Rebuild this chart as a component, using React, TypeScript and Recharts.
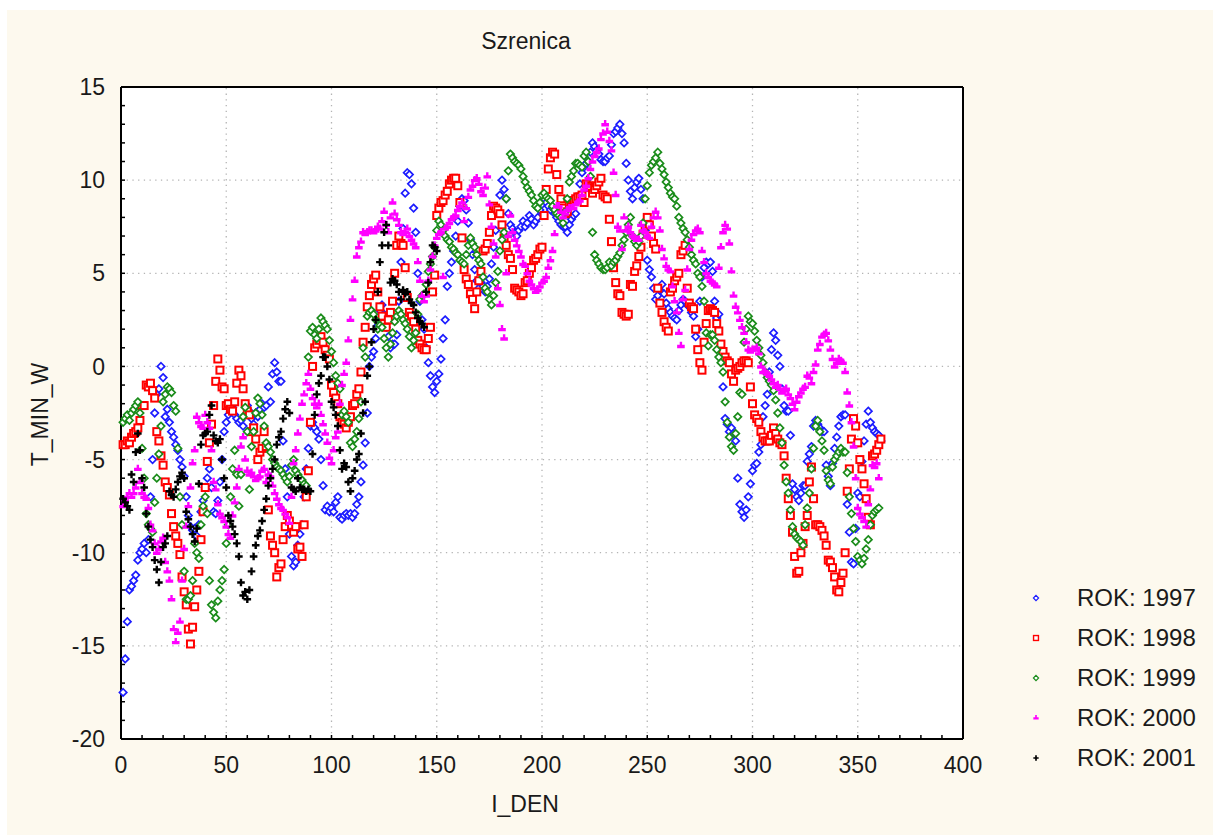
import { ScatterChart, Scatter, XAxis, YAxis, ReferenceLine, CartesianGrid, Legend } from 'recharts';

// T_MIN_W per day (I_DEN = index + 1)
const y1997 = [
  -17.5, -15.7, -13.7, -12.0, -11.8, -11.5, -11.2, -10.4, -10.0, -9.8,
  -9.5, -10.0, -9.3, -7.0, -5.0, -2.5, -1.5, -1.2, 0.0, -0.6,
  -2.7, -2.3, -3.0, -3.5, -3.8, -4.2, -4.5, -5.0, -5.4, -5.9,
  -7.0, -8.0, -8.6, -8.8, -8.7, -9.1, -8.5, -7.8, -7.2, -6.5,
  -6.0, -5.5, -6.5, -7.8, -7.9, -7.2, -6.2, -5.0, -3.5, -3.0,
  -2.6, -2.4, -2.2, -2.6, -2.8, -3.0, -2.9, -3.2, -2.6, -2.1,
  -2.4, -2.8, -3.1, -2.5, -2.7, -2.3, -2.0, -2.2, -2.1, -1.1,
  -1.9, -0.4, 0.2, -0.3, -0.8, -0.8, -4.0, -5.5, -7.0, -9.0,
  -10.2, -10.7, -10.5, -9.6, -9.0, -8.5, -7.0, -5.5, -4.4, -3.2,
  -3.0, -3.3, -3.5, -3.9, -5.0, -6.4, -7.7, -7.5, -7.8, -7.6,
  -7.8, -7.3, -7.0, -8.1, -8.2, -8.0, -7.9, -8.0, -7.9, -8.1,
  -7.9, -7.4, -7.0, -6.2, -5.3, -4.1, -2.5, 0.0, 0.5, 0.8,
  1.5, 2.2, 3.0, 3.3, 2.8, 2.1, 1.6, 1.0, 1.2, 1.2,
  1.7, 3.5, 5.6, 7.4, 9.3, 10.4, 10.3, 9.8, 8.5, 7.2,
  5.0, 3.5, 2.5, 2.0, 1.0, 0.2, -0.5, -1.1, -1.4, -0.8,
  -0.4, 0.4, 1.5, 2.5, 4.3, 5.0, 5.6, 6.2, 7.0, 7.8,
  8.6, 9.0, 8.9, 8.4, 7.7, 6.8, 6.0, 5.2, 4.6, 4.2,
  4.5, 4.3, 4.0, 4.3, 4.7, 5.5, 6.4, 7.3, 8.3, 9.2,
  10.0, 9.5, 9.0, 8.2, 7.6, 7.4, 7.2, 7.0, 7.3, 7.5,
  7.8, 7.5, 7.7, 8.1, 7.9, 7.6, 7.8, 8.0, 8.4, 8.7,
  9.0, 8.8, 8.6, 8.4, 8.5, 8.2, 8.0, 7.8, 7.6, 7.5,
  7.5, 7.2, 7.6, 7.9, 8.1, 8.2, 9.0, 9.8, 10.4, 10.7,
  10.9, 11.0, 11.5, 12.0, 11.8, 11.6, 11.4, 11.1, 11.0, 11.0,
  11.2, 11.3, 11.9, 12.5, 12.6, 12.8, 13.0, 12.5, 12.0, 10.9,
  10.0, 9.4, 9.0, 9.6, 9.9, 10.1, 9.5, 9.0, 7.3, 5.7,
  5.2, 4.8, 4.2, 3.6, 3.8, 4.1, 4.4, 3.9, 3.4, 3.1,
  2.9, 2.7, 2.6, 2.5, 3.0, 3.3, 3.6, 3.5, 3.3, 3.2,
  2.9, 2.7, 1.6, 2.0, 3.5, 4.8, 5.3, 5.6, 5.5, 5.6,
  5.1, 3.5, 2.6, 2.8, 0.9, -1.1, -2.8, -3.1, -3.5, -3.3,
  -3.6, -4.0, -6.0, -7.4, -7.8, -8.1, -7.7, -7.0, -6.3, -5.6,
  -5.3, -5.2, -4.6, -4.2, -2.7, -2.1, -1.5, -0.3, 0.9, 1.8,
  1.4, 0.6, 0.0, -1.2, -2.1, -2.4, -2.4, -3.7, -6.3, -6.6,
  -7.0, -7.2, -6.8, -6.4, -6.4, -5.1, -4.7, -4.3, -3.2, -2.9,
  -3.1, -3.3, -3.5, -3.5, -5.3, -5.9, -6.4, -5.2, -4.4, -3.8,
  -3.2, -2.7, -2.6, -2.6, -7.4, -8.9, -10.5, -10.6, -8.7, -6.8,
  -7.0, -5.1, -4.0, -3.1, -2.4, -3.0, -3.3, -3.5, -3.6, -3.7,
  -4.0,
];

const y1998 = [
  -4.2, -4.2, -4.0, -4.1, -3.8, -3.6, -3.5, -3.3, -2.9, -2.1,
  -2.1, -1.0, -1.1, -0.9, -1.3, -1.7, -3.5, -4.0, -4.8, -5.3,
  -6.2, -6.5, -6.9, -7.9, -8.6, -9.1, -9.5, -10.1, -11.3, -12.1,
  -12.8, -14.1, -14.9, -14.0, -12.9, -12.0, -11.0, -9.3, -7.8, -6.5,
  -5.1, -4.1, -3.1, -2.1, -0.8, 0.4, -0.2, -1.1, -1.2, -2.1,
  -2.0, -2.3, -2.4, -1.9, -0.9, -0.2, -0.5, -1.2, -2.0, -2.4,
  -2.6, -3.5, -3.3, -3.9, -5.0, -4.6, -4.4, -3.5, -4.3, -7.7,
  -9.1, -9.6, -10.0, -11.3, -10.8, -10.6, -9.3, -8.6, -8.0, -8.3,
  -8.6, -8.9, -8.6, -9.8, -9.7, -10.2, -8.5, -7.0, -5.6, -3.0,
  0.0, 1.0, 1.2, 1.4, 1.6, 1.3, 0.9, 0.6, 0.4, -1.0,
  -1.4, -1.7, -2.0, -2.7, -3.0, -3.1, -3.3, -3.0, -2.7, -2.1,
  -2.0, -1.5, -1.2, -0.3, 1.3, 2.1, 3.2, 3.8, 4.4, 4.7,
  4.9, 4.0, 3.2, 2.7, 2.3, 2.1, 2.5, 2.9, 3.5, 5.0,
  6.5, 7.0, 6.6, 6.5, 5.3, 3.7, 2.9, 2.7, 2.4, 2.0,
  1.4, 1.2, 1.0, 0.9, 0.9, 1.5, 2.1, 4.0, 4.9, 8.1,
  8.5, 8.8, 8.9, 9.2, 9.4, 9.8, 10.0, 10.1, 10.1, 9.7,
  8.8, 6.9, 5.2, 4.7, 4.4, 3.9, 3.6, 3.1, 4.0, 4.6,
  5.1, 6.2, 6.3, 6.6, 7.2, 8.1, 8.6, 8.5, 8.4, 8.2,
  7.6, 6.9, 6.5, 6.0, 5.8, 5.2, 4.2, 4.1, 4.0, 3.8,
  3.9, 4.5, 4.6, 5.0, 5.3, 5.7, 5.8, 6.0, 6.3, 6.4,
  8.1, 9.5, 10.6, 11.2, 11.5, 11.4, 10.3, 9.5, 9.0, 8.5,
  8.2, 8.3, 8.8, 8.9, 8.9, 9.0, 9.1, 9.1, 9.2, 8.8,
  9.8, 9.7, 9.6, 9.3, 9.5, 9.7, 9.9, 10.1, 9.2, 9.1,
  9.0, 7.9, 6.7, 5.3, 4.5, 3.9, 3.8, 2.9, 2.8, 2.7,
  2.8, 4.4, 4.3, 5.1, 5.4, 5.9, 6.4, 7.1, 7.6, 8.0,
  7.6, 7.0, 6.6, 6.3, 4.2, 3.4, 2.9, 2.4, 2.1, 1.9,
  4.0, 4.2, 4.6, 4.8, 5.0, 6.0, 6.2, 6.5, 4.2, 3.4,
  3.2, 3.1, 2.0, 0.9, 0.2, -0.2, 1.3, 2.3, 3.0, 3.1,
  3.0, 2.9, 2.3, 1.9, 1.2, 0.8, 0.5, 0.3, 0.2, -0.4,
  -0.8, -0.2, -0.1, 0.0, 0.2, 0.3, 0.3, 0.2, -1.1, -2.0,
  -2.6, -2.8, -3.0, -3.5, -3.8, -4.0, -4.0, -4.0, -3.7, -3.3,
  -3.6, -3.9, -4.1, -4.2, -4.8, -6.0, -7.1, -8.0, -8.9, -10.2,
  -11.1, -11.0, -10.0, -9.5, -8.6, -8.0, -6.2, -5.4, -7.1, -8.5,
  -8.5, -8.6, -8.8, -9.1, -9.6, -10.4, -10.5, -10.8, -11.3, -12.0,
  -12.1, -11.6, -11.1, -10.0, -6.7, -5.5, -3.9, -2.8, -3.2, -4.1,
  -5.0, -5.5, -6.3, -7.1, -8.1, -8.5, -4.8, -4.7, -4.5, -4.2,
  -3.9,
];

const y1999 = [
  -3.0, -2.8, -2.6, -2.9, -2.5, -2.3, -2.1, -1.9, -2.5, -4.4,
  -6.0, -7.9, -8.5, -8.7, -8.9, -7.3, -6.0, -4.7, -3.2, -1.9,
  -1.5, -1.1, -1.2, -1.4, -2.1, -2.4, -4.4, -7.0, -8.5, -11.0,
  -12.5, -12.5, -12.3, -11.5, -9.5, -10.0, -10.3, -8.5, -7.5, -7.0,
  -7.9, -11.5, -12.8, -13.2, -13.5, -12.6, -12.0, -11.5, -10.9, -9.5,
  -8.5, -7.0, -5.5, -4.5, -5.8, -7.5, -5.8, -2.7, -2.2, -3.5,
  -6.6, -4.3, -3.5, -2.5, -1.7, -2.0, -2.6, -3.2, -4.1, -4.3,
  -4.6, -5.0, -5.2, -5.4, -5.5, -5.6, -5.8, -6.0, -6.2, -5.9,
  -5.3, -5.0, -5.6, -5.8, -6.0, -6.1, -6.3, -6.4, 0.5, 1.9,
  2.1, 1.7, 1.5, 2.0, 2.6, 2.4, 2.2, 2.0, 1.4, 0.8,
  0.2, -0.5, -0.9, -1.2, -2.6, -2.4, -2.7, -3.0, -4.1, -4.3,
  -3.9, -3.5, -2.8, -1.9, 1.0, 0.5, 2.7, 2.9, 3.0, 2.8,
  2.5, 2.0, 2.2, 2.1, 1.5, 1.0, 0.5, 1.2, 1.8, 2.4,
  2.7, 3.0, 2.8, 2.5, 2.3, 2.0, 1.6, 1.0, 1.4, 1.8,
  2.8, 3.6, 3.8, 3.9, 4.4, 5.1, 5.5, 5.9, 6.4, 7.3,
  7.8, 7.6, 7.3, 7.0, 6.8, 6.7, 6.4, 6.3, 6.1, 6.0,
  5.7, 5.6, 5.5, 6.0, 6.5, 6.9, 6.6, 6.4, 6.0, 5.7,
  5.5, 4.8, 4.2, 4.0, 3.6, 3.3, 3.8, 4.5, 5.1, 6.2,
  6.8, 7.2, 9.0, 10.5, 11.4, 11.2, 11.0, 10.9, 10.8, 10.6,
  10.2, 9.9, 9.6, 9.4, 9.2, 8.9, 8.6, 8.5, 8.8, 9.2,
  9.3, 9.1, 9.0, 8.9, 8.6, 8.4, 8.2, 8.1, 8.0, 7.7,
  8.3, 9.0, 9.9, 10.2, 10.5, 10.9, 10.9, 10.8, 10.7, 11.3,
  11.5, 11.0, 10.2, 7.2, 6.0, 5.7, 5.5, 5.3, 5.2, 5.2,
  5.3, 5.6, 5.4, 5.6, 5.7, 5.9, 6.1, 6.5, 6.8, 7.2,
  7.6, 8.0, 7.0, 6.7, 6.5, 6.7, 7.0, 7.7, 9.0, 9.7,
  10.4, 10.8, 11.0, 11.2, 11.5, 10.9, 10.6, 10.3, 9.9, 9.6,
  9.3, 9.1, 9.0, 8.6, 8.0, 7.7, 7.4, 7.2, 6.8, 6.4,
  6.0, 5.7, 5.5, 5.0, 4.8, 4.3, 3.5, 1.8, 1.1, 1.7,
  1.7, 1.4, 0.9, 0.5, 0.2, -0.3, -1.9, -3.0, -3.8, -4.3,
  -4.5, -3.6, -2.7, -1.4, -1.5, 1.3, 2.0, 2.7, 2.4, 2.3,
  1.9, 1.4, 1.0, 0.6, 0.2, -0.3, -0.6, -0.8, -1.0, -1.3,
  -1.8, -2.5, -3.3, -4.1, -5.3, -6.2, -6.8, -7.7, -8.6, -9.0,
  -9.2, -9.3, -9.4, -9.6, -8.5, -7.6, -6.8, -5.5, -4.4, -3.2,
  -2.9, -3.5, -4.0, -4.5, -5.6, -6.1, -6.3, -5.4, -5.0, -4.8,
  -4.6, -4.4, -4.6, -4.6, -5.7, -7.0, -7.9, -8.7, -9.4, -10.2,
  -10.4, -10.6, -10.3, -9.8, -9.3, -8.5, -8.0, -7.8, -7.7, -7.6,
];

const y2000 = [
  -7.5, -7.2, -7.0, -6.8, -7.0, -6.8, -6.5, -5.5, -6.2, -6.8,
  -7.0, -7.1, -7.6, -8.5, -8.8, -9.5, -10.0, -9.8, -9.4, -9.2,
  -10.5, -11.0, -11.5, -12.5, -14.1, -14.8, -14.3, -13.7, -11.5, -9.8,
  -8.6, -7.5, -6.5, -5.2, -4.5, -2.7, -3.0, -3.2, -3.3, -2.6,
  -3.0, -3.3, -4.5, -6.2, -6.6, -7.4, -7.9, -8.1, -8.3, -8.6,
  -9.0, -9.2, -8.0, -7.3, -6.5, -5.5, -4.3, -3.8, -5.0, -5.6,
  -5.8, -5.7, -5.9, -6.1, -6.0, -5.9, -5.6, -5.5, -6.2, -5.8,
  -5.9, -6.4, -6.8, -7.1, -7.4, -7.6, -7.7, -7.9, -8.1, -8.4,
  -7.0, -5.2, -4.5, -3.6, -2.8, -2.0, -1.5, -0.9, -0.4, -1.2,
  -1.7, -2.0, -2.2, -2.0, -2.6, -3.1, -3.6, -4.1, -4.9, -5.2,
  -4.5, -3.8, -3.5, -2.0, -1.0, -0.4, 0.2, 1.4, 2.5, 3.6,
  4.6, 5.9, 6.4, 6.7, 7.2, 7.1, 7.2, 7.3, 7.3, 7.2,
  7.3, 7.5, 7.4, 7.8, 8.3, 7.6, 7.2, 8.0, 8.8, 8.2,
  7.9, 7.6, 7.2, 7.1, 7.2, 7.4, 7.0, 6.8, 6.6, 6.4,
  5.6, 4.6, 3.8, 3.5, 3.8, 4.6, 5.2, 5.9, 6.5, 6.9,
  7.1, 7.2, 4.8, 7.4, 7.5, 7.7, 7.9, 8.0, 8.1, 8.4,
  8.6, 8.8, 7.8, 8.5, 9.1, 9.5, 9.7, 10.0, 10.1, 9.8,
  9.4, 9.2, 9.6, 10.2, 8.7, 7.5, 6.6, 5.9, 4.2, 3.3,
  2.0, 1.5, 5.0, 7.0, 8.1, 7.2, 6.8, 6.5, 6.2, 5.9,
  5.5, 5.4, 5.0, 4.6, 4.4, 4.2, 4.0, 4.1, 4.3, 4.5,
  4.6, 4.8, 5.3, 5.7, 6.2, 7.1, 8.6, 8.6, 8.3, 8.0,
  8.2, 8.4, 8.5, 8.5, 8.5, 8.7, 8.8, 8.9, 9.2, 9.5,
  9.7, 10.1, 10.6, 11.0, 11.3, 11.5, 11.7, 12.2, 12.5, 13.0,
  12.6, 12.1, 11.6, 10.4, 9.2, 7.5, 7.3, 6.3, 8.0, 7.3,
  7.5, 7.2, 7.0, 6.9, 6.8, 6.8, 7.6, 7.3, 7.2, 7.0,
  6.9, 7.5, 8.0, 8.3, 8.0, 7.3, 6.3, 5.8, 5.4, 5.2,
  5.1, 4.3, 3.5, 2.9, 1.8, 1.1, 3.6, 4.1, 5.2, 6.3,
  6.8, 7.1, 7.3, 7.4, 7.2, 6.2, 5.6, 5.0, 4.8, 4.6,
  4.5, 4.4, 4.3, 5.3, 6.4, 7.2, 7.6, 7.4, 6.6, 5.1,
  3.8, 3.2, 2.9, 2.5, 2.1, 1.8, 1.3, 0.9, 0.8, 0.9,
  0.9, 1.0, 0.7, 0.0, -0.3, -0.3, -0.4, -0.5, -0.7, -0.9,
  -1.1, -1.0, -1.2, -1.4, -1.3, -1.2, -1.5, -1.7, -2.0, -2.3,
  -1.9, -1.6, -1.4, -1.2, -1.1, -0.5, -0.6, -0.9, -0.3, 0.1,
  0.9, 1.2, 1.6, 1.7, 1.8, 1.4, 0.9, 0.4, 0.0, 0.2,
  0.4, 0.3, 0.2, -0.3, -1.4, -2.1, -3.0, -4.3, -6.0, -7.6,
  -7.9, -8.1, -8.3, -8.6, -7.4, -6.6, -5.3, -5.4, -5.2, -6.0,
];

const y2001 = [
  -7.1, -7.3, -7.5, -7.7, -5.8, -6.2, -4.6, -3.6, -4.5, -6.0,
  -6.5, -7.9, -8.6, -9.3, -9.7, -10.4, -10.9, -11.6, -10.5, -9.7,
  -9.5, -9.1, -6.7, -6.9, -7.0, -6.6, -6.2, -5.9, -5.7, -6.0,
  -7.8, -8.2, -8.6, -9.0, -9.4, -8.7, -6.3, -4.2, -3.7, -3.6,
  -3.5, -2.6, -2.1, -3.7, -4.0, -4.1, -3.9, -5.0, -6.0, -6.5,
  -8.0, -8.3, -8.6, -9.0, -9.5, -10.2, -11.6, -12.3, -12.1, -12.5,
  -12.0, -11.0, -10.2, -9.6, -9.1, -8.8, -8.3, -7.7, -7.1, -6.4,
  -6.0, -5.5, -5.0, -4.2, -3.8, -3.5, -2.8, -2.3, -1.9, -2.5,
  -6.5, -6.6, -6.7, -6.0, -6.5, -6.6, -6.6, -6.7, -6.6, -6.7,
  -4.7, -2.6, -1.5, -0.9, -0.5, 0.5, 0.5, 0.0, -0.7, -1.9,
  -2.2, -2.6, -3.2, -4.5, -5.5, -5.2, -5.4, -6.2, -6.7, -6.0,
  -5.6, -5.0, -4.7, -3.6, -2.5, -1.9, -0.5, 0.0, 1.3, 2.0,
  2.5, 4.0, 5.6, 6.5, 7.2, 7.6, 6.5, 4.5, 4.7, 4.6,
  4.4, 4.0, 3.6, 4.1, 3.9, 4.0, 3.6, 3.4, 3.3, 2.9,
  2.6, 2.4, 2.3, 2.1, 4.0, 4.5, 5.6, 6.5, 6.4, 6.2,
];

const xTicks = [0, 10, 20, 30, 40, 50, 60, 70, 80, 90, 100, 110, 120, 130, 140, 150, 160, 170, 180, 190, 200,
  210, 220, 230, 240, 250, 260, 270, 280, 290, 300, 310, 320, 330, 340, 350, 360, 370, 380, 390, 400];
const yTicks = [-20, -19, -18, -17, -16, -15, -14, -13, -12, -11, -10, -9, -8, -7, -6, -5, -4, -3, -2, -1, 0,
  1, 2, 3, 4, 5, 6, 7, 8, 9, 10, 11, 12, 13, 14, 15];
const gridX = [50, 100, 150, 200, 250, 300, 350];
const gridY = [-15, -10, -5, 0, 5, 10];

const FONT = "'Liberation Sans', Arial, sans-serif";

const series = [
  { name: 'ROK: 1997', values: y1997, color: '#1c1cff', kind: 'diamond' },
  { name: 'ROK: 1998', values: y1998, color: '#ff0000', kind: 'square' },
  { name: 'ROK: 1999', values: y1999, color: '#1a8c1a', kind: 'diamond' },
  { name: 'ROK: 2000', values: y2000, color: '#ff00ff', kind: 'tri' },
  { name: 'ROK: 2001', values: y2001, color: '#000000', kind: 'plus' },
];

function Marker({ kind, cx, cy, color, s = 1 }: any) {
  if (cx == null || cy == null) return null;
  if (kind === 'diamond') {
    const r = 3.7 * s;
    return <path d={`M${cx},${cy - r}L${cx + r},${cy}L${cx},${cy + r}L${cx - r},${cy}Z`} fill="#fff" stroke={color} strokeWidth={1.7 * s} />;
  }
  if (kind === 'square') {
    const h = 3.5 * s;
    return <rect x={cx - h} y={cy - h} width={2 * h} height={2 * h} fill="#fff" stroke={color} strokeWidth={2 * s} />;
  }
  if (kind === 'tri') {
    return (
      <path
        d={`M${cx - 1.2 * s},${cy - 4.2 * s}h${2.4 * s}v${3 * s}h${2.6 * s}v${3.4 * s}h${-7.6 * s}v${-3.4 * s}h${2.6 * s}Z`}
        fill={color}
      />
    );
  }
  const r = 3.8 * s;
  return <path d={`M${cx - r},${cy}H${cx + r}M${cx},${cy - r}V${cy + r}`} stroke={color} strokeWidth={2.4 * s} />;
}

function LegendBox({ payload }: any) {
  return (
    <div style={{ fontFamily: FONT, fontSize: 24, color: '#1a1a1a' }}>
      {(payload || []).map((entry: any) => {
        const s = series.find((d) => d.name === entry.value) || series[0];
        return (
          <div key={s.name} style={{ display: 'flex', alignItems: 'center', height: 40 }}>
            <svg width={20} height={20} style={{ display: 'block' }}>
              <Marker kind={s.kind} cx={10} cy={10} color={s.color} s={0.7} />
            </svg>
            <span style={{ marginLeft: 31, lineHeight: '24px' }}>{s.name}</span>
          </div>
        );
      })}
    </div>
  );
}

const axisLine = { stroke: '#000', strokeWidth: 2 };
const tickLine = { stroke: '#000', strokeWidth: 1.5 };
const tickStyle = { fill: '#1a1a1a', fontSize: 23, fontFamily: FONT };

export default function App() {
  return (
    <div style={{ position: 'fixed', left: 0, top: 0, width: 1213, height: 835, background: '#fff', overflow: 'hidden' }}>
      <div style={{ position: 'absolute', left: 7, top: 10, right: 0, bottom: 0, background: '#fdf9ee' }} />
      <div style={{ position: 'absolute', left: 0, top: 0 }}>
        <ScatterChart width={1213} height={835} margin={{ top: 86, right: 249, bottom: 46, left: 60 }}>
          <CartesianGrid horizontal={false} vertical={false} fill="#ffffff" />
          <XAxis
            dataKey="day"
            type="number"
            domain={[0, 400]}
            ticks={xTicks}
            interval={0}
            tickFormatter={(v: number) => (v % 50 === 0 ? String(v) : '')}
            height={50}
            tickSize={-4}
            tickMargin={22}
            axisLine={axisLine}
            tickLine={tickLine}
            tick={tickStyle}
          />
          <XAxis xAxisId="top" orientation="top" type="number" domain={[0, 400]} ticks={xTicks} interval={0}
            height={1} tickSize={-4} axisLine={axisLine} tickLine={tickLine} tick={false} />
          <YAxis
            dataKey="t"
            type="number"
            domain={[-20, 15]}
            ticks={yTicks}
            interval={0}
            tickFormatter={(v: number) => (v % 5 === 0 ? String(v) : '')}
            width={61}
            tickSize={-4}
            tickMargin={20}
            axisLine={axisLine}
            tickLine={tickLine}
            tick={tickStyle}
          />
          <YAxis yAxisId="right" orientation="right" type="number" domain={[-20, 15]} ticks={yTicks} interval={0}
            width={1} tickSize={-4} axisLine={axisLine} tickLine={tickLine} tick={false} />
          {gridX.map((v) => (
            <ReferenceLine key={'gx' + v} x={v} stroke="#b4b4b4" strokeWidth={1.3} strokeDasharray="1.3 4.4" />
          ))}
          {gridY.map((v) => (
            <ReferenceLine key={'gy' + v} y={v} stroke="#b4b4b4" strokeWidth={1.3} strokeDasharray="1.3 4.4" />
          ))}
          {series.map((s) => (
            <Scatter
              key={s.name}
              name={s.name}
              data={s.values.map((t, i) => ({ day: i + 1, t }))}
              fill={s.color}
              isAnimationActive={false}
              shape={(p: any) => <Marker kind={s.kind} cx={p.cx} cy={p.cy} color={s.color} />}
            />
          ))}
          <Legend
            layout="vertical"
            align="center"
            verticalAlign="middle"
            content={<LegendBox />}
            wrapperStyle={{ position: 'absolute', left: 1026, top: 578, width: 187, height: 200 }}
          />
        </ScatterChart>
      </div>
      <div style={{ position: 'absolute', left: 426, top: 28, width: 200, textAlign: 'center', fontFamily: FONT, fontSize: 23, color: '#1a1a1a' }}>
        Szrenica
      </div>
      <div style={{ position: 'absolute', left: 425, top: 791, width: 200, textAlign: 'center', fontFamily: FONT, fontSize: 23, color: '#1a1a1a' }}>
        I_DEN
      </div>
      <div style={{ position: 'absolute', left: -60, top: 401, width: 200, textAlign: 'center', fontFamily: FONT, fontSize: 23, color: '#1a1a1a', transform: 'rotate(-90deg)' }}>
        T_MIN_W
      </div>
    </div>
  );
}
